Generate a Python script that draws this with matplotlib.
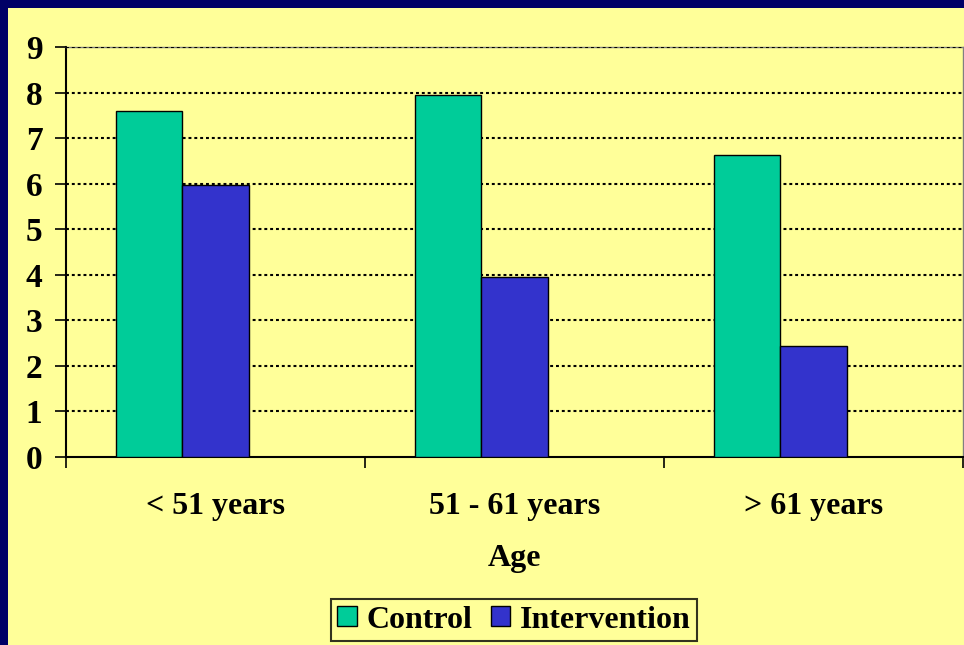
import matplotlib
matplotlib.use("Agg")
import matplotlib.pyplot as plt
from matplotlib.patches import Rectangle
import numpy as np

categories = ["< 51 years", "51 - 61 years", "> 61 years"]
control = [7.6, 7.95, 6.63]
intervention = [5.98, 3.96, 2.44]
yticks = list(range(0, 10))

plt.rcParams['font.family'] = ['Liberation Serif', 'DejaVu Serif']
plt.rcParams['font.weight'] = 'bold'

W, H = 964, 645
fig = plt.figure(figsize=(W / 100, H / 100), dpi=100, facecolor="#000066")
fig.patches.append(Rectangle((8 / W, 0), 1 - 8 / W, 1 - 8 / H, transform=fig.transFigure,
                             facecolor="#FFFF99", edgecolor="none", zorder=-10))

left, right, top, bottom = 66, 963, 47, 457
ax = fig.add_axes([left / W, 1 - bottom / H, (right - left) / W, (bottom - top) / H])
ax.set_facecolor("#FFFF99")

x = np.arange(len(categories))
bw = 1 / 4.5
ax.bar(x - bw, control, width=bw, color="#00CC99", edgecolor="black", linewidth=1, label="Control", zorder=3)
ax.bar(x, intervention, width=bw, color="#3333CC", edgecolor="black", linewidth=1, label="Intervention", zorder=3)

ax.set_xlim(-0.5, 2.5)
ax.set_ylim(0, 9)
ax.set_yticks(yticks)
ax.set_yticklabels([str(v) for v in yticks], fontsize=24, fontweight='bold')
for v in yticks[1:]:
    ax.axhline(v, color="black", linewidth=1.5, linestyle=(0, (1.4, 1.4)), zorder=2.7)

ax.set_xticks(x)
ax.set_xticklabels(categories, fontsize=23, fontweight='bold')
ax.tick_params(axis='x', which='major', length=0, pad=25)
ax.set_xticks([-0.5, 0.5, 1.5, 2.5], minor=True)
ax.tick_params(axis='x', which='minor', length=8, width=1.2, direction='out')
ax.tick_params(axis='y', length=8, width=1.2, direction='out', pad=9)

for s in ['left', 'bottom']:
    ax.spines[s].set_linewidth(1.5)
for s in ['top', 'right']:
    ax.spines[s].set_color("#808080")
    ax.spines[s].set_linewidth(1)

ax.set_xlabel("Age", fontsize=23, fontweight='bold', labelpad=17)

leg = fig.legend(loc='center', bbox_to_anchor=(514 / W, 1 - 620 / H), ncol=2,
                 prop={'size': 23, 'weight': 'bold'}, frameon=True, fancybox=False,
                 handlelength=0.6, handleheight=0.6, handletextpad=0.3, columnspacing=0.6,
                 borderpad=0.2, borderaxespad=0)
leg.get_frame().set_edgecolor("black")
leg.get_frame().set_facecolor("#FFFF99")
leg.get_frame().set_linewidth(1.5)

fig.savefig("out.png", dpi=100, facecolor=fig.get_facecolor())
